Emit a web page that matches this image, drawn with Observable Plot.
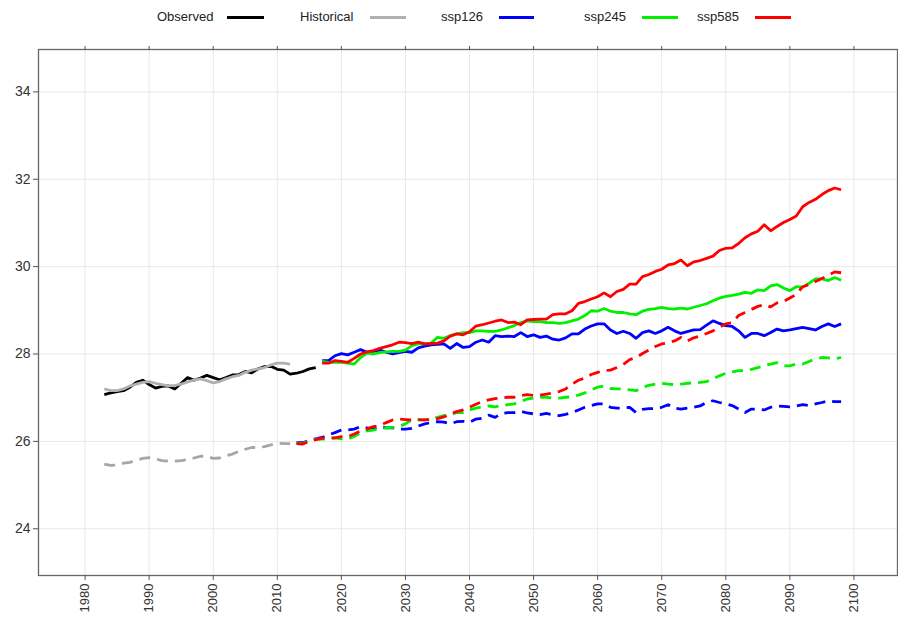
<!DOCTYPE html>
<html>
<head>
<meta charset="utf-8">
<script src="https://cdn.jsdelivr.net/npm/d3@7"></script>
<script src="https://cdn.jsdelivr.net/npm/@observablehq/plot@0.6"></script>
<style>
  body { margin: 0; background: #fff; }
  #legend { position: relative; width: 898px; height: 34px; font: 13px "Liberation Sans", Arial, sans-serif; color: #222; }
  #legend .lab { position: absolute; top: 9px; line-height: 16px; white-space: nowrap; }
  #legend .sw { position: absolute; top: 16px; height: 3px; }
</style>
</head>
<body>
<div id="legend"></div>
<div id="chart"></div>
<script>
// ---- tick labels ----
const xTicks = [1980, 1990, 2000, 2010, 2020, 2030, 2040, 2050, 2060, 2070, 2080, 2090, 2100];
const yTicks = [24, 26, 28, 30, 32, 34];

// ---- legend ----
const seriesNames = ["Observed", "Historical", "ssp126", "ssp245", "ssp585"];
const seriesColors = ["#000000", "#b0b0b0", "#0000ff", "#00f000", "#ff0000"];
const historicalDashColor = "#a8a5a2";

// ---- first years of each series ----
const observedStart = 1983;
const historicalStart = 1983;
const sspSolidStart = 2017;
const sspDashedStart = 2013;

// ---- values (deg) ----
const observed = [27.07, 27.11, 27.14, 27.16, 27.24, 27.35, 27.40, 27.30, 27.22, 27.26,
  27.27, 27.20, 27.33, 27.46, 27.40, 27.45, 27.51, 27.46, 27.41, 27.46,
  27.52, 27.53, 27.60, 27.57, 27.66, 27.71, 27.72, 27.65, 27.63, 27.54,
  27.56, 27.60, 27.66, 27.69];

const historicalSolid = [27.20, 27.16, 27.16, 27.20, 27.27, 27.31, 27.35, 27.37, 27.33, 27.30,
  27.27, 27.28, 27.31, 27.36, 27.40, 27.43, 27.39, 27.34, 27.37, 27.43,
  27.48, 27.51, 27.58, 27.63, 27.66, 27.69, 27.75, 27.79, 27.79, 27.77];

const historicalDashed = [25.48, 25.45, 25.46, 25.50, 25.52, 25.57, 25.61, 25.63, 25.60, 25.56,
  25.55, 25.55, 25.56, 25.58, 25.62, 25.66, 25.66, 25.61, 25.62, 25.67,
  25.71, 25.77, 25.82, 25.86, 25.86, 25.88, 25.92, 25.96, 25.95, 25.95];

const ssp126Solid = [27.85, 27.85, 27.96, 28.01, 27.98, 28.04, 28.10, 28.04, 28.06, 28.09, 28.04, 28.00, 28.03,
  28.06, 28.04, 28.14, 28.18, 28.21, 28.22, 28.23, 28.13, 28.24, 28.15, 28.17, 28.27, 28.32, 28.27, 28.42, 28.40, 28.41,
  28.40, 28.49, 28.40, 28.44, 28.38, 28.41, 28.34, 28.32, 28.37, 28.46, 28.46, 28.57, 28.64, 28.69, 28.69, 28.55, 28.47,
  28.52, 28.47, 28.36, 28.49, 28.53, 28.47, 28.53, 28.61, 28.53, 28.47, 28.51, 28.55, 28.56, 28.66, 28.76, 28.70, 28.65,
  28.63, 28.53, 28.38, 28.47, 28.47, 28.42, 28.49, 28.57, 28.53, 28.55, 28.58, 28.61, 28.58, 28.55, 28.63, 28.69, 28.63, 28.69];

const ssp245Solid = [27.83, 27.81, 27.81, 27.81, 27.79, 27.77, 27.92, 28.02, 28.00, 28.03, 28.05, 28.06, 28.06,
  28.09, 28.19, 28.23, 28.23, 28.25, 28.38, 28.36, 28.42, 28.46, 28.49, 28.49, 28.53, 28.53, 28.52, 28.52, 28.55, 28.60,
  28.65, 28.72, 28.76, 28.74, 28.74, 28.72, 28.72, 28.70, 28.72, 28.76, 28.80, 28.88, 28.99, 28.98, 29.04, 28.98, 28.95,
  28.95, 28.92, 28.90, 28.98, 29.02, 29.04, 29.07, 29.04, 29.03, 29.05, 29.03, 29.07, 29.11, 29.15, 29.22, 29.28, 29.32,
  29.34, 29.37, 29.41, 29.39, 29.47, 29.45, 29.56, 29.59, 29.51, 29.45, 29.54, 29.53, 29.62, 29.72, 29.72, 29.68, 29.75, 29.69];

const ssp585Solid = [27.79, 27.79, 27.85, 27.83, 27.81, 27.90, 28.00, 28.05, 28.08, 28.13, 28.17, 28.21, 28.27,
  28.26, 28.24, 28.27, 28.23, 28.24, 28.25, 28.30, 28.41, 28.46, 28.44, 28.51, 28.64, 28.67, 28.71, 28.75, 28.78, 28.72,
  28.73, 28.67, 28.78, 28.79, 28.80, 28.80, 28.90, 28.92, 28.92, 28.99, 29.16, 29.20, 29.26, 29.31, 29.40, 29.31, 29.43,
  29.48, 29.60, 29.60, 29.77, 29.82, 29.89, 29.94, 30.04, 30.07, 30.15, 30.02, 30.11, 30.14, 30.19, 30.24, 30.37, 30.42,
  30.43, 30.53, 30.66, 30.75, 30.81, 30.96, 30.82, 30.92, 31.01, 31.08, 31.16, 31.37, 31.47, 31.54, 31.65, 31.74, 31.80, 31.76];

const ssp126Dashed = [25.97, 25.97, 26.03,
  26.06, 26.09, 26.15, 26.20, 26.26, 26.26, 26.28, 26.34, 26.31, 26.29, 26.34, 26.31, 26.31, 26.28,
  26.28, 26.30, 26.35, 26.40, 26.43, 26.45, 26.44, 26.40, 26.45, 26.46, 26.44, 26.51, 26.53, 26.60, 26.55, 26.64, 26.66,
  26.66, 26.69, 26.65, 26.63, 26.61, 26.64, 26.61, 26.59, 26.62, 26.66, 26.72, 26.78, 26.82, 26.86, 26.86, 26.78, 26.76,
  26.76, 26.78, 26.66, 26.73, 26.75, 26.75, 26.78, 26.84, 26.76, 26.74, 26.76, 26.78, 26.81, 26.89, 26.93, 26.89, 26.86,
  26.82, 26.74, 26.66, 26.74, 26.74, 26.72, 26.78, 26.81, 26.80, 26.79, 26.81, 26.84, 26.82, 26.86, 26.89, 26.93, 26.91, 26.91];

const ssp245Dashed = [25.96, 25.95, 26.02,
  26.05, 26.05, 26.06, 26.08, 26.06, 26.05, 26.11, 26.20, 26.24, 26.26, 26.29, 26.31, 26.32, 26.34,
  26.40, 26.50, 26.50, 26.49, 26.51, 26.55, 26.59, 26.61, 26.66, 26.66, 26.72, 26.76, 26.79, 26.81, 26.79, 26.82, 26.84,
  26.86, 26.91, 26.97, 26.99, 27.01, 27.01, 26.99, 26.99, 27.01, 27.02, 27.06, 27.11, 27.18, 27.24, 27.27, 27.21, 27.20,
  27.20, 27.18, 27.16, 27.24, 27.28, 27.31, 27.33, 27.31, 27.30, 27.31, 27.33, 27.34, 27.35, 27.37, 27.43, 27.50, 27.56,
  27.59, 27.62, 27.62, 27.65, 27.69, 27.73, 27.77, 27.80, 27.73, 27.73, 27.77, 27.77, 27.83, 27.89, 27.92, 27.91, 27.89, 27.92];

const ssp585Dashed = [25.95, 25.94, 26.00,
  26.04, 26.07, 26.08, 26.08, 26.11, 26.11, 26.17, 26.24, 26.28, 26.34, 26.36, 26.43, 26.49, 26.51,
  26.50, 26.49, 26.49, 26.49, 26.50, 26.52, 26.56, 26.63, 26.68, 26.72, 26.78, 26.85, 26.91, 26.95, 26.98, 26.99, 27.01,
  27.01, 27.05, 27.07, 27.05, 27.06, 27.08, 27.11, 27.14, 27.20, 27.31, 27.40, 27.45, 27.53, 27.58, 27.62, 27.63, 27.69,
  27.76, 27.87, 27.92, 28.01, 28.09, 28.17, 28.23, 28.26, 28.30, 28.38, 28.30, 28.37, 28.41, 28.47, 28.53, 28.61, 28.69,
  28.72, 28.88, 28.95, 29.02, 29.09, 29.13, 29.08, 29.17, 29.20, 29.28, 29.36, 29.54, 29.59, 29.66, 29.73, 29.80, 29.88, 29.86];

// ---- build legend ----
const legendLayout = [
  {lab: 157, sw: 227, w: 37},
  {lab: 300, sw: 370, w: 36},
  {lab: 441, sw: 499, w: 35},
  {lab: 584, sw: 642, w: 36},
  {lab: 697, sw: 755, w: 36}
];
const legend = document.getElementById("legend");
seriesNames.forEach((name, i) => {
  const t = document.createElement("span");
  t.className = "lab"; t.textContent = name; t.style.left = legendLayout[i].lab + "px";
  legend.appendChild(t);
  const s = document.createElement("span");
  s.className = "sw"; s.style.left = legendLayout[i].sw + "px"; s.style.width = legendLayout[i].w + "px";
  s.style.background = seriesColors[i];
  legend.appendChild(s);
});

// ---- data rows ----
function rows(values, start) { return values.map((v, i) => ({year: start + i, value: v})); }
const lines = [
  {data: rows(observed, observedStart), color: seriesColors[0], dash: null},
  {data: rows(historicalSolid, historicalStart), color: seriesColors[1], dash: null},
  {data: rows(historicalDashed, historicalStart), color: historicalDashColor, dash: "11,7"},
  {data: rows(ssp126Solid, sspSolidStart), color: seriesColors[2], dash: null},
  {data: rows(ssp126Dashed, sspDashedStart), color: seriesColors[2], dash: "11,7"},
  {data: rows(ssp245Solid, sspSolidStart), color: seriesColors[3], dash: null},
  {data: rows(ssp245Dashed, sspDashedStart), color: seriesColors[3], dash: "11,7"},
  {data: rows(ssp585Solid, sspSolidStart), color: seriesColors[4], dash: null},
  {data: rows(ssp585Dashed, sspDashedStart), color: seriesColors[4], dash: "11,7"}
];

const chart = Plot.plot({
  width: 898,
  height: 585,
  marginTop: 15,
  marginBottom: 44,
  marginLeft: 38,
  marginRight: 1,
  style: {fontFamily: "'Liberation Sans', Arial, sans-serif", fontSize: "13px", color: "#333", background: "#fff"},
  x: {domain: [1972.73, 2106.8]},
  y: {domain: [22.93, 34.97]},
  marks: [
    Plot.gridX(xTicks, {stroke: "#e8e8e8", strokeOpacity: 1}),
    Plot.gridY(yTicks, {stroke: "#e8e8e8", strokeOpacity: 1}),
    Plot.frame({stroke: "#666", strokeWidth: 1.3}),
    Plot.axisX(xTicks, {anchor: "bottom", tickSize: 5, tickPadding: 3, tickRotate: -90, tickFormat: d => String(d), label: null, fontSize: 13, stroke: "#555"}),
    Plot.axisX(xTicks, {anchor: "top", tickSize: 4, tickFormat: () => "", label: null, stroke: "#555"}),
    Plot.axisY(yTicks, {anchor: "left", tickSize: 5, tickPadding: 3, label: null, fontSize: 14, stroke: "#555"}),
    ...lines.map(l => Plot.line(l.data, {
      x: "year", y: "value", stroke: l.color, strokeWidth: 2.8,
      strokeDasharray: l.dash || undefined, strokeLinejoin: "round", strokeLinecap: "butt"
    }))
  ]
});
document.getElementById("chart").appendChild(chart);
</script>
</body>
</html>
